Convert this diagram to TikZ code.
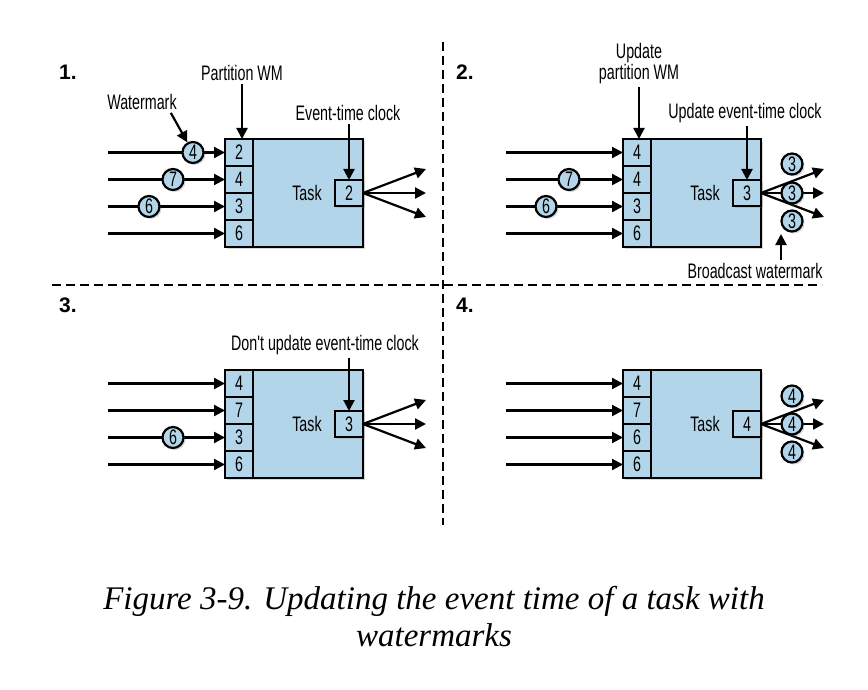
\documentclass[tikz,border=0pt]{standalone}
\usepackage{fontspec}
\newfontfamily\diafont[FakeStretch=0.68]{Liberation Sans}
\newfontfamily\numfont{Liberation Sans}
\newfontfamily\capfont{Liberation Serif}
\usepackage{tikz}
\usetikzlibrary{positioning, arrows.meta, shadows}
\definecolor{wmblue}{RGB}{178,213,234}

\begin{document}
\begin{tikzpicture}[x=1pt, y=-1pt, font=\diafont\fontsize{21}{21}\selectfont,
  boxshadow/.style={drop shadow={shadow xshift=2pt, shadow yshift=-2pt, opacity=0.3}},
  box/.style={draw, line width=2.2pt, fill=wmblue, inner sep=0pt, outer sep=0pt},
  taskbox/.style={box, boxshadow, minimum width=138pt, minimum height=108pt},
  cell/.style={box, minimum width=28pt, minimum height=27pt},
  clockbox/.style={box, boxshadow, minimum width=28pt, minimum height=26pt},
  wm/.style={circle, draw, line width=2.2pt, fill=wmblue, boxshadow, minimum size=21pt, inner sep=0pt},
  arr/.style={line width=2.2pt, -{Triangle[length=11pt, width=11pt]}},
  lab/.style={inner sep=3pt, align=center},
  num/.style={font=\numfont\bfseries\fontsize{21}{21}\selectfont},
  sep/.style={line width=2pt, dash pattern=on 9pt off 5pt}]
\useasboundingbox (0,0) rectangle (868,690);

% four panels: task, partition watermarks, event-time clock
\foreach \n/\x/\y/\a/\b/\c/\d/\k in {1/225/139/2/4/3/6/2, 2/623/139/4/4/3/6/3,
    3/225/370/4/7/3/6/3, 4/623/370/4/7/6/6/4}{
  \node[taskbox] (t\n) at (\x+69,\y+54) {};
  \node (tl\n) at (\x+82,\y+54) {Task};
  \node[clockbox, anchor=east] (k\n) at (t\n.east) {\k};
  \foreach \v [count=\i] in {\a,\b,\c,\d}{
    \node[cell] (p\n-\i) at (\x+14,\y+27*\i-13.5) {\v};
    \path (p\n-\i.west) ++(-117,0) coordinate (s\n-\i);
    \draw[arr] (s\n-\i) -- (p\n-\i);
  }
  \foreach \dy [count=\j] in {-24,0,24}{
    \path (k\n.east) ++(63,\dy) coordinate (o\n-\j);
    \draw[arr] (k\n.east) -- (o\n-\j);
  }
}

\node[num] (n1) at (68,72) {1.};
\node[num] (n2) at (465,72) {2.};
\node[num] (n3) at (68,305) {3.};
\node[num] (n4) at (465,305) {4.};

% watermarks in the streams
\node[wm] (w1-4) at (193,152.5) {4};
\node[wm] (w1-7) at (173,179.5) {7};
\node[wm] (w1-6) at (149,206.5) {6};
\node[wm] (w2-7) at (569,179.5) {7};
\node[wm] (w2-6) at (546,206.5) {6};
\node[wm] (w3-6) at (173,437.5) {6};
\node[wm] (b2-1) at (792,164) {3};
\node[wm] (b2-2) at (792,193) {3};
\node[wm] (b2-3) at (792,221) {3};
\node[wm] (b4-1) at (792,396) {4};
\node[wm] (b4-2) at (792,424) {4};
\node[wm] (b4-3) at (792,452) {4};

% labels
\node[lab] (pwm) at (242,73) {Partition WM};
\node[lab] (wml) at (142,102) {Watermark};
\node[lab] (etc) at (348,113) {Event-time clock};
\node[lab] (upw) at (639,64) {Update\\partition WM};
\node[lab] (uec) at (745,113) {Update event-time clock};
\node[lab] (bcw) at (755,271) {Broadcast watermark};
\node[lab] (due) at (325,345) {Don't update event-time clock};
\coordinate (bc) at (781,234);

\draw[arr] (pwm.south) -- (pwm.south |- p1-1.north);
\draw[arr] ([xshift=-9pt]wml.south east) -- (w1-4);
\draw[arr] (etc.south -| k1.north) -- (k1.north);
\draw[arr] (upw.south) -- (upw.south |- p2-1.north);
\draw[arr] (uec.south -| k2.north) -- (k2.north);
\draw[arr] (bcw.north -| bc) -- (bc);
\draw[arr] (due.south -| k3.north) -- (k3.north);

% separators
\coordinate (hl) at (52,285);
\coordinate (hr) at (822,285);
\coordinate (vt) at (443,42);
\coordinate (vb) at (443,525);
\draw[sep] (hl) -- (hr);
\draw[sep] (vt) -- (vb);

\node[font=\capfont\itshape\fontsize{33}{37}\selectfont, align=center] (cap) at (434,617)
  {Figure 3-9. Updating the event time of a task with\\watermarks};
\end{tikzpicture}
\end{document}
